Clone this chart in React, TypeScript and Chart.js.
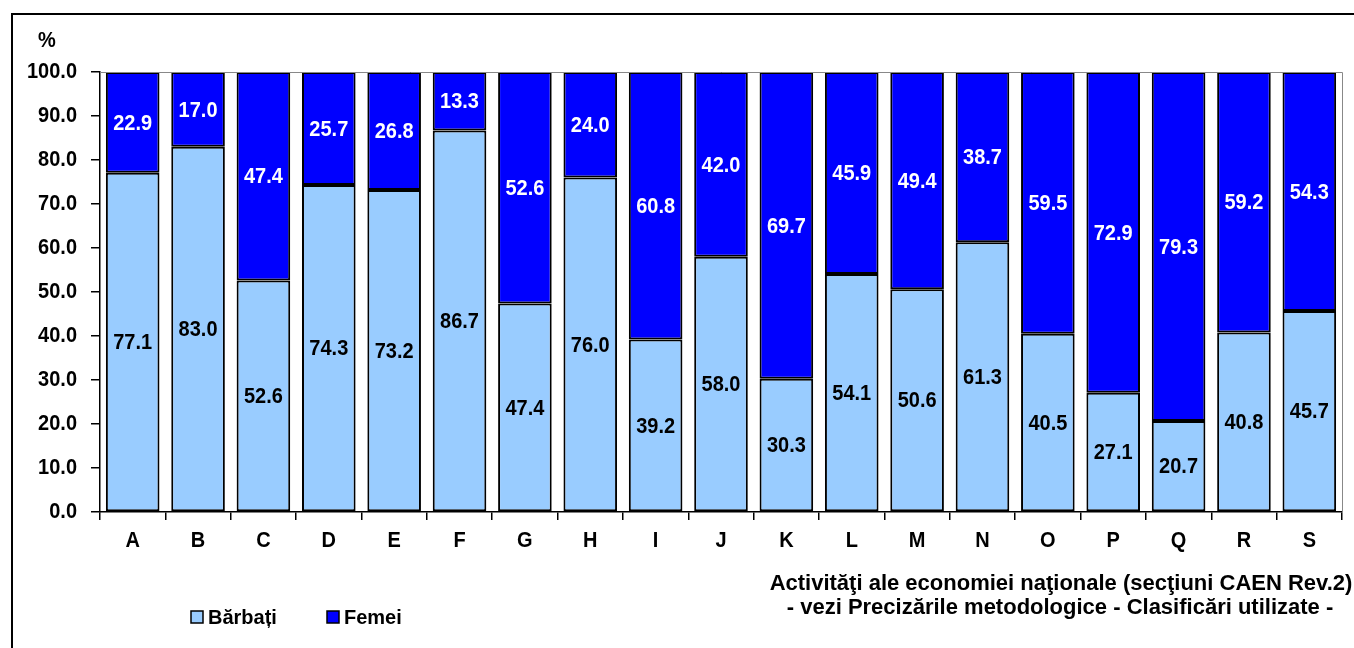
import React, { useEffect, useRef } from "react";
import { Chart, registerables } from "chart.js";

Chart.register(...registerables);

const categories = ["A","B","C","D","E","F","G","H","I","J","K","L","M","N","O","P","Q","R","S"];
const barbati = [77.1,83.0,52.6,74.3,73.2,86.7,47.4,76.0,39.2,58.0,30.3,54.1,50.6,61.3,40.5,27.1,20.7,40.8,45.7];
const femei = [22.9,17.0,47.4,25.7,26.8,13.3,52.6,24.0,60.8,42.0,69.7,45.9,49.4,38.7,59.5,72.9,79.3,59.2,54.3];
const seriesNames = ["Bărbați", "Femei"];
const titleLines = [
  "Activităţi ale economiei naţionale (secţiuni CAEN Rev.2)",
  "- vezi Precizările metodologice - Clasificări utilizate -",
];
const unitLabel = "%";

const FONT = "'Liberation Sans', Arial, sans-serif";
const LIGHT = "#99CCFF";
const DARK = "#0000FF";
const STRETCH = 1.12;

function stretchedText(ctx: any, text: string, x: number, y: number, sy: number) {
  ctx.save();
  ctx.translate(x, y);
  ctx.scale(1, sy);
  ctx.fillText(text, 0, 0);
  ctx.restore();
}

const valueLabels = {
  id: "valueLabels",
  afterDatasetsDraw(chart: any) {
    const ctx = chart.ctx;
    ctx.save();
    ctx.font = `bold 20px ${FONT}`;
    ctx.textAlign = "center";
    ctx.textBaseline = "middle";
    chart.data.datasets.forEach((ds: any, di: number) => {
      const meta = chart.getDatasetMeta(di);
      ctx.fillStyle = di === 0 ? "#000" : "#fff";
      meta.data.forEach((bar: any, i: number) => {
        const v = ds.data[i];
        const cy = (bar.y + bar.base) / 2;
        stretchedText(ctx, Number(v).toFixed(1), bar.x, cy + 1, STRETCH);
      });
    });
    ctx.restore();
  },
};

const axisLabels = {
  id: "axisLabels",
  afterDraw(chart: any) {
    const ctx = chart.ctx;
    const xs = chart.scales.x;
    const ys = chart.scales.y;
    ctx.save();
    ctx.fillStyle = "#000";
    ctx.font = `bold 20px ${FONT}`;
    ctx.textBaseline = "middle";
    ctx.textAlign = "right";
    ys.ticks.forEach((t: any) => {
      const py = ys.getPixelForValue(t.value);
      stretchedText(ctx, Number(t.value).toFixed(1), 77, py, STRETCH);
    });
    ctx.textAlign = "center";
    categories.forEach((c, i) => {
      const px = xs.getPixelForValue(i);
      stretchedText(ctx, c, px, 541, STRETCH);
    });
    ctx.restore();
  },
};

const decorations = {
  id: "decorations",
  afterDraw(chart: any) {
    const ctx = chart.ctx;
    const a = chart.chartArea;
    ctx.save();
    // outer frame
    ctx.strokeStyle = "#000";
    ctx.lineWidth = 2;
    ctx.beginPath();
    ctx.moveTo(12, 660);
    ctx.lineTo(12, 14);
    ctx.lineTo(1360, 14);
    ctx.stroke();
    // plot area border top/right
    ctx.strokeStyle = "#888";
    ctx.lineWidth = 1;
    ctx.beginPath();
    ctx.moveTo(a.left, a.top + 0.5);
    ctx.lineTo(a.right + 0.5, a.top + 0.5);
    ctx.lineTo(a.right + 0.5, a.bottom);
    ctx.stroke();
    // unit
    ctx.fillStyle = "#000";
    ctx.font = `bold 20px ${FONT}`;
    ctx.textAlign = "center";
    ctx.textBaseline = "middle";
    stretchedText(ctx, unitLabel, 47, 41, STRETCH);
    // legend
    const items = [
      { x: 191, color: LIGHT, text: seriesNames[0] },
      { x: 327, color: DARK, text: seriesNames[1] },
    ];
    ctx.font = `bold 20px ${FONT}`;
    ctx.textAlign = "left";
    items.forEach((it) => {
      ctx.fillStyle = it.color;
      ctx.fillRect(it.x, 611, 12, 12);
      ctx.strokeStyle = "#000";
      ctx.lineWidth = 1.5;
      ctx.strokeRect(it.x, 611, 12, 12);
      ctx.fillStyle = "#000";
      ctx.fillText(it.text, it.x + 17, 618);
    });
    // axis title
    ctx.font = `bold 22px ${FONT}`;
    ctx.textAlign = "center";
    ctx.fillText(titleLines[0], 1061, 584);
    ctx.fillText(titleLines[1], 1060, 608);
    ctx.restore();
  },
};

export default function App() {
  const ref = useRef<HTMLCanvasElement>(null);
  useEffect(() => {
    document.body.style.margin = "0";
    const chart = new Chart(ref.current!, {
      type: "bar",
      data: {
        labels: categories,
        datasets: [
          {
            label: seriesNames[0],
            data: barbati,
            backgroundColor: LIGHT,
            borderColor: "#000",
            borderWidth: 2,
            borderSkipped: false,
            barPercentage: 0.82,
            categoryPercentage: 1,
          },
          {
            label: seriesNames[1],
            data: femei,
            backgroundColor: DARK,
            borderColor: "#000",
            borderWidth: 2,
            borderSkipped: false,
            barPercentage: 0.82,
            categoryPercentage: 1,
          },
        ],
      },
      options: {
        responsive: false,
        animation: false,
        layout: { padding: { left: 0, right: 12, top: 72, bottom: 0 } },
        plugins: { legend: { display: false }, tooltip: { enabled: false } },
        scales: {
          x: {
            stacked: true,
            grid: { offset: true, drawOnChartArea: false, tickLength: 8, color: "#000", lineWidth: 1.5 },
            border: { display: true, color: "#000", width: 1.5 },
            ticks: { display: false },
            afterFit: (s: any) => { s.height = 136; },
          },
          y: {
            stacked: true,
            min: 0,
            max: 100,
            grid: { drawOnChartArea: false, tickLength: 9, color: "#000", lineWidth: 1.5 },
            border: { display: true, color: "#000", width: 1.5 },
            ticks: { stepSize: 10, display: false },
            afterFit: (s: any) => { s.width = 100; },
          },
        },
      },
      plugins: [valueLabels, axisLabels, decorations],
    });
    return () => chart.destroy();
  }, []);
  return (
    <div style={{ position: "absolute", left: 0, top: 0, width: 1354, height: 648, background: "#fff" }}>
      <canvas ref={ref} width={1354} height={648} />
    </div>
  );
}
